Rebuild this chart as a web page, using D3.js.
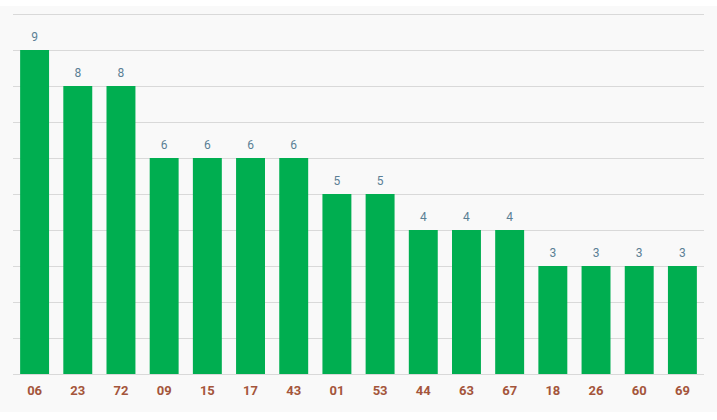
<!DOCTYPE html>
<html>
<head>
<meta charset="utf-8">
<script src="https://cdn.jsdelivr.net/npm/d3@7"></script>
<style>
  body { margin: 0; background: #ffffff; }
  svg { display: block; font-family: Roboto, "Open Sans", sans-serif; }
</style>
</head>
<body>
<div id="chart"></div>
<script>
//========================
//   Data
//========================
var categories = ["06", "23", "72", "09", "15", "17", "43", "01", "53", "44", "63", "67", "18", "26", "60", "69"];
var values = [9, 8, 8, 6, 6, 6, 6, 5, 5, 4, 4, 4, 3, 3, 3, 3];
var gridTicks = [0, 1, 2, 3, 4, 5, 6, 7, 8, 9, 10];

var width = 717, height = 420;

var svg = d3.select("#chart").append("svg")
  .attr("width", width)
  .attr("height", height);

//Light panel behind the plot
svg.append("rect")
  .attr("x", 0).attr("y", 6)
  .attr("width", width).attr("height", 406)
  .attr("fill", "#f9f9f9");

//Scales
var x = d3.scaleBand()
  .domain(categories)
  .range([13, 704])
  .paddingInner(0.33)
  .paddingOuter(0.165);

var y = d3.scaleLinear()
  .domain([0, 10])
  .range([374, 14]);

//Horizontal grid lines
svg.append("g")
  .selectAll("line")
  .data(gridTicks)
  .join("line")
  .attr("x1", 13)
  .attr("x2", 704)
  .attr("y1", function(d) { return Math.round(y(d)) + 0.5; })
  .attr("y2", function(d) { return Math.round(y(d)) + 0.5; })
  .attr("stroke", "#d9d9d9")
  .attr("stroke-width", 1);

//Bars
svg.append("g")
  .selectAll("rect")
  .data(values)
  .join("rect")
  .attr("x", function(d, i) { return x(categories[i]); })
  .attr("y", function(d) { return y(d); })
  .attr("width", x.bandwidth())
  .attr("height", function(d) { return y(0) - y(d); })
  .attr("fill", "#00ae50");

//Value labels above the bars
svg.append("g")
  .selectAll("text")
  .data(values)
  .join("text")
  .attr("x", function(d, i) { return x(categories[i]) + x.bandwidth() / 2; })
  .attr("y", function(d) { return y(d) - 9; })
  .attr("text-anchor", "middle")
  .attr("font-size", 12)
  .attr("fill", "#5b7f95")
  .text(function(d) { return d; });

//Category axis at the bottom
var xAxis = svg.append("g")
  .attr("transform", "translate(0," + y(0) + ")")
  .call(d3.axisBottom(x).tickSize(0).tickPadding(12));

xAxis.select(".domain").remove();
xAxis.selectAll("text")
  .attr("font-family", "Roboto, sans-serif")
  .attr("font-size", 13)
  .attr("font-weight", "bold")
  .attr("fill", "#a4553b");
</script>
</body>
</html>
